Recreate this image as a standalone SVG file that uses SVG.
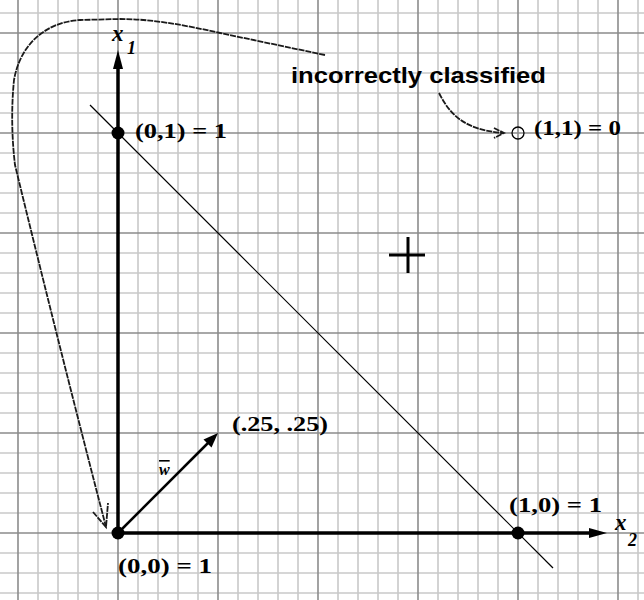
<svg xmlns="http://www.w3.org/2000/svg" width="644" height="600" viewBox="0 0 644 600">
<defs>
<style>
.minor{stroke:#c9c9c9;stroke-width:1.6}
.major{stroke:#8c8c8c;stroke-width:1.6}
.axis{stroke:#000;stroke-width:3.5;fill:none}
.lbl{font-family:"Liberation Serif","DejaVu Serif",serif;font-weight:bold;font-size:22px;fill:#000}
.var{font-family:"Liberation Serif","DejaVu Serif",serif;font-style:italic;font-weight:bold;fill:#000}
.note{font-family:"Liberation Sans",Arial,sans-serif;font-weight:bold;font-size:22px;fill:#000}
.dash{stroke:#1a1a1a;stroke-width:1.8;fill:none;stroke-dasharray:6 1}
</style>
</defs>
<rect width="644" height="600" fill="#fff"/>
<g id="grid">
<path class="minor" d="M38,0V600M58,0V600M78,0V600M98,0V600M138,0V600M158,0V600M178,0V600M198,0V600M238,0V600M258,0V600M278,0V600M298,0V600M338,0V600M358,0V600M378,0V600M398,0V600M438,0V600M458,0V600M478,0V600M498,0V600M538,0V600M558,0V600M578,0V600M598,0V600M638,0V600"/>
<path class="minor" d="M0,13H644M0,53H644M0,73H644M0,93H644M0,113H644M0,153H644M0,173H644M0,193H644M0,213H644M0,253H644M0,273H644M0,293H644M0,313H644M0,353H644M0,373H644M0,393H644M0,413H644M0,453H644M0,473H644M0,493H644M0,513H644M0,553H644M0,573H644M0,593H644"/>
<path class="major" d="M18,0V600M118,0V600M218,0V600M318,0V600M418,0V600M518,0V600M618,0V600M0,33H644M0,133H644M0,233H644M0,333H644M0,433H644M0,533H644"/>
</g>
<g id="connectors">
<g id="axis-x1">
<line class="axis" x1="118" y1="533" x2="118" y2="64"/>
<polygon points="118,50 113,69 123,69" fill="#000"/>
</g>
<g id="axis-x2">
<line class="axis" x1="118" y1="533" x2="594" y2="533"/>
<polygon points="607,533 589,528 589,538" fill="#000"/>
</g>
<line id="decision-line" x1="90" y1="105" x2="553" y2="568" stroke="#000" stroke-width="1.2"/>
<g id="vector-w">
<line x1="118" y1="533" x2="212" y2="439" stroke="#000" stroke-width="2.5"/>
<polygon points="218,433 203.5,439.5 211.5,447.5" fill="#000"/>
</g>
<g id="big-curve">
<path class="dash" d="M325,55 L220,33 C180,24 150,19 120,19 L80,20 C45,22 20,45 14,80 C11,110 12,140 15,165 Q60,350 106,527"/>
<path class="dash" d="M93,512 L106,527 L108,503" stroke-dasharray="none"/>
</g>
<g id="note-arrow">
<path class="dash" d="M439,93 C450,115 465,130 503,133" stroke-dasharray="5 1"/>
<path class="dash" d="M494,128 L504,133 L494,138" stroke-dasharray="none"/>
</g>
</g>
<g id="node-00">
<circle cx="118" cy="533" r="6.5" fill="#000"/>
<text class="lbl" x="118" y="573" textLength="94" lengthAdjust="spacingAndGlyphs">(0,0) = 1</text>
</g>
<g id="node-01">
<circle cx="118" cy="133" r="6.5" fill="#000"/>
<text class="lbl" x="135" y="138" textLength="92" lengthAdjust="spacingAndGlyphs">(0,1) = 1</text>
</g>
<g id="node-10">
<circle cx="518" cy="533" r="6.5" fill="#000"/>
<text class="lbl" x="509" y="512" textLength="93" lengthAdjust="spacingAndGlyphs">(1,0) = 1</text>
</g>
<g id="node-11">
<circle cx="518" cy="133" r="6" fill="none" stroke="#000" stroke-width="1.3"/>
<text class="lbl" x="534" y="135" textLength="87" lengthAdjust="spacingAndGlyphs">(1,1) = 0</text>
</g>
<g id="note">
<text class="note" x="291" y="83" textLength="255" lengthAdjust="spacingAndGlyphs">incorrectly classified</text>
</g>
<g id="w-label">
<text x="232" y="431" font-family="Liberation Serif, DejaVu Serif, serif" font-size="22" font-weight="bold" textLength="96" lengthAdjust="spacingAndGlyphs">(.25, .25)</text>
<text class="var" x="159" y="475" font-size="16" style="text-decoration:overline">w</text>
</g>
<g id="axis-labels">
<text class="var" x="112" y="41" font-size="23">x</text>
<text class="var" x="127" y="54" font-size="18">1</text>
<text class="var" x="615" y="530" font-size="23">x</text>
<text class="var" x="628" y="546" font-size="18">2</text>
</g>
<g id="centroid">
<path d="M389,255H425M408,237V273" stroke="#000" stroke-width="3"/>
</g>
</svg>
